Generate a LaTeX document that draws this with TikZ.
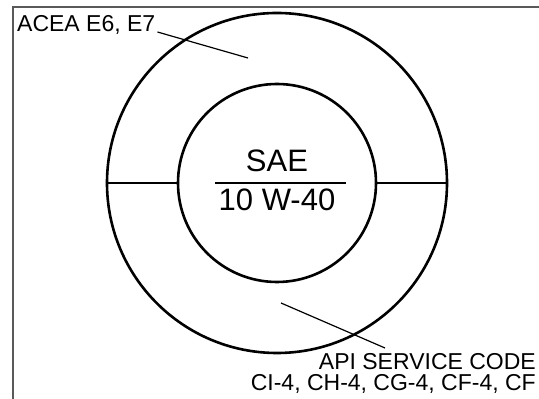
\documentclass[tikz,border=0pt]{standalone}
\usepackage{fontspec}
\setmainfont{Liberation Sans}
\usetikzlibrary{calc}

\begin{document}
\begin{tikzpicture}[x=1pt, y=1pt,
  ring/.style={draw, circle, line width=2.6pt, inner sep=0pt},
  lbl/.style={font=\fontsize{23}{26}\selectfont, inner sep=0pt},
  sae/.style={font=\fontsize{31}{34}\selectfont, inner sep=0pt},
  lead/.style={line width=1.2pt},
  border/.style={draw=black!65, line width=1.3pt}
]
\useasboundingbox (0,0) rectangle (539,399);
\draw[border] (13,0) -- (13,392) -- (539,392);

\node[ring, minimum size=340pt] (outer) at (277,216) {};
\node[ring, minimum size=198pt] (inner) at (277,216) {};
\draw[line width=2.3pt] (outer.west) -- (inner.west);
\draw[line width=2.3pt] (inner.east) -- (outer.east);

\node[sae, anchor=base] (sae) at (277,227) {SAE};
\node[sae, anchor=base] (grade) at (277,188) {10 W-40};
\draw[line width=1.4pt] (215,216) -- (346,216);

\node[lbl, anchor=base west] (acea) at (17,367) {ACEA E6, E7};
\coordinate (aceatip) at (248,341);
\draw[lead] ($(acea.base east)+(2,0)$) -- (aceatip);

\node[lbl, anchor=base east] (api) at (536,29) {API SERVICE CODE};
\node[lbl, anchor=base east] (codes) at (536,8) {CI-4, CH-4, CG-4, CF-4, CF};
\coordinate (apitip) at (281,96);
\coordinate (apiend) at (385,51);
\draw[lead] (apitip) -- (apiend);
\end{tikzpicture}
\end{document}
